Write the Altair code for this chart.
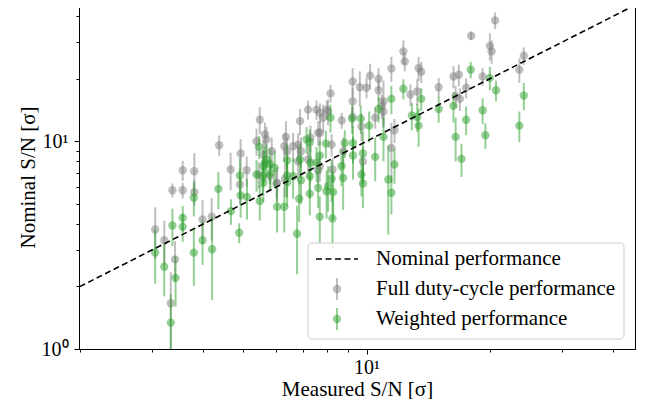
import altair as alt
import pandas as pd

# Full duty-cycle performance (gray)
gray_x = [20.6, 18.0, 20.0, 20.2, 12.3, 12.4, 24.2, 23.6, 11.5, 13.4, 13.6, 16.3, 16.8, 19.2, 10.2,
          10.7, 9.25, 9.63, 10.0, 10.7, 8.17, 12.8, 13.3, 15.0, 9.25, 11.0, 10.9, 16.5, 16.9, 17.5,
          8.0, 7.7, 7.84, 8.7, 9.25, 9.72, 10.5, 11.0, 11.7, 11.5, 7.7, 8.22, 8.77, 9.8, 8.26,
          7.2, 7.55, 8.06, 5.49, 6.88, 7.62, 5.65, 5.7, 6.36, 7.3, 6.3, 6.62, 5.39, 4.37, 5.87,
          5.6, 4.93, 6.81, 7.2, 7.69, 4.66, 5.1, 3.56, 3.8, 5.81, 4.91, 6.03, 3.36, 3.56, 3.8,
          3.98, 4.19, 3.05, 3.21, 3.41, 3.33, 6.05, 6.33, 6.92, 6.4, 7.62, 6.81, 5.46]
gray_y = [38.2, 32.2, 28.8, 27.1, 27.1, 24.2, 25.8, 22.1, 22.4, 22.5, 21.6, 20.5, 20.9, 20.5, 20.7,
          20.0, 19.4, 18.2, 18.1, 17.6, 17.0, 16.8, 17.4, 18.2, 15.6, 15.6, 14.8, 16.5, 16.0, 18.1,
          14.2, 13.7, 13.0, 12.6, 13.1, 11.8, 13.0, 13.9, 11.3, 9.3, 11.0, 9.64, 8.95, 8.0, 7.31,
          14.2, 14.2, 13.9, 12.7, 12.5, 11.0, 10.8, 10.2, 10.5, 10.4, 9.46, 9.46, 10.0, 9.57, 8.95,
          8.63, 8.73, 8.0, 8.17, 7.58, 7.31, 7.25, 7.25, 7.17, 6.79, 6.19, 6.26, 5.81, 5.81, 5.69,
          4.2, 4.33, 3.76, 3.34, 2.7, 1.66, 6.31, 6.6, 8.95, 8.95, 7.25, 9.64, 6.92]
gray_err = [3.5, 1.5, 4.3, 3.5, 3.5, 2.5, 2.5, 3.0, 3.1, 3.0, 2.5, 2.5, 2.5, 2.0, 2.9,
            2.5, 3.1, 3.5, 2.0, 2.0, 1.7, 2.0, 2.5, 2.0, 2.5, 4.0, 2.0, 2.0, 2.0, 2.0,
            1.5, 1.5, 2.0, 1.1, 1.5, 1.8, 1.5, 2.0, 1.5, 3.0, 1.5, 1.2, 1.5, 1.5, 1.0,
            1.5, 1.5, 2.0, 1.9, 1.8, 1.5, 1.5, 1.5, 2.0, 1.5, 1.5, 1.5, 1.5, 1.1, 1.5,
            1.5, 1.5, 1.5, 1.5, 1.2, 1.5, 1.2, 0.8, 1.6, 1.0, 1.2, 1.0, 0.45, 0.5, 0.8,
            1.0, 1.0, 1.05, 0.8, 0.6, 0.68, 1.2, 1.2, 1.5, 1.5, 1.0, 1.3, 1.0]

# Weighted performance (green)
green_x = [17.96, 20.0, 20.7, 24.2, 23.6, 19.2, 19.5, 17.5, 16.5, 17.05, 16.3, 15.0, 12.3, 11.5, 13.6,
           12.9, 13.3, 13.4, 10.7, 11.0, 10.15, 9.27, 9.8, 9.27, 10.5, 11.7, 8.17, 7.96, 8.69, 8.22,
           8.77, 9.72, 9.8, 11.3, 11.5, 7.99, 8.29, 7.14, 7.27, 5.47, 6.4, 6.88, 5.7, 5.6, 5.81,
           7.69, 7.55, 7.3, 5.39, 5.83, 6.62, 4.91, 5.6, 4.35, 6.4, 7.27, 7.62, 8.06, 3.36, 3.56,
           3.56, 3.79, 3.79, 3.98, 4.2, 4.67, 4.89, 4.93, 5.11, 5.49, 6.05, 6.3, 6.85, 6.77, 7.69,
           3.05, 3.21, 3.42, 3.33, 8.26, 5.97, 5.65, 6.4, 6.92, 9.22, 9.68, 5.58, 7.27, 8.85]
green_y = [22.1, 20.2, 17.6, 16.6, 11.9, 14.1, 10.7, 12.7, 10.5, 8.23, 14.8, 14.3, 17.9, 16.0, 16.0,
           13.3, 13.1, 11.9, 14.3, 10.5, 11.9, 9.8, 8.73, 8.54, 8.41, 7.73, 13.0, 9.75, 7.58, 6.6,
           6.67, 6.92, 6.26, 6.55, 5.65, 5.75, 5.69, 10.2, 9.89, 9.4, 8.1, 8.17, 8.17, 7.58, 7.73,
           8.54, 7.88, 7.88, 6.92, 6.99, 6.79, 6.84, 6.31, 5.9, 6.35, 5.6, 5.97, 6.08, 3.93, 4.28,
           3.88, 5.35, 2.91, 3.34, 3.02, 4.61, 3.63, 5.48, 5.4, 5.15, 4.84, 4.84, 5.29, 3.59, 4.33,
           2.91, 2.49, 2.2, 1.34, 4.25, 7.45, 7.88, 6.84, 6.49, 12.86, 12.86, 6.79, 6.79, 9.82]
green_err = [2.0, 2.6, 2.0, 2.5, 2.0, 2.0, 1.5, 2.0, 2.5, 1.5, 2.5, 2.0, 2.0, 2.5, 2.0,
             2.0, 2.0, 2.5, 2.0, 2.5, 2.0, 2.0, 2.5, 2.0, 2.0, 1.5, 2.0, 1.5, 1.5, 1.5,
             2.0, 1.5, 1.5, 3.0, 1.2, 1.5, 1.5, 1.5, 1.5, 1.2, 1.5, 1.5, 1.5, 1.5, 1.5,
             1.5, 1.5, 1.5, 1.2, 1.2, 1.5, 1.5, 1.2, 1.2, 1.5, 1.2, 1.2, 1.5, 0.8, 0.6,
             0.6, 1.0, 0.9, 0.8, 1.3, 0.65, 0.4, 1.2, 1.2, 1.0, 1.2, 1.2, 1.2, 1.3, 1.1,
             0.85, 0.7, 0.6, 0.5, 1.2, 1.5, 1.5, 1.5, 1.5, 2.0, 2.0, 1.2, 1.5, 1.5]

nominal_x = [1.5, 60.0]

SERIF = "Liberation Serif"
GRAY = "#7f7f7f"
GREEN = "#2ca02c"

gray_df = pd.DataFrame({"x": gray_x, "y": gray_y, "err": gray_err})
green_df = pd.DataFrame({"x": green_x, "y": green_y, "err": green_err})
nom_df = pd.DataFrame({"x": nominal_x, "y": nominal_x})

xscale = alt.Scale(type="log", domain=[1.988, 45.2], nice=False)
yscale = alt.Scale(type="log", domain=[1.0, 45.3], nice=False)

xaxis = alt.Axis(
    title="Measured S/N [σ]",
    values=[2, 3, 4, 5, 6, 7, 8, 9, 10, 20, 30, 40],
    labelExpr="datum.value == 10 ? '10¹' : ''",
    grid=False, labelOverlap=False, labelFlush=False,
    tickSize={"condition": {"test": "datum.value == 10", "value": 5}, "value": 3},
    titleX=278, titleY=46, titleAnchor="middle", titleAlign="center", titleBaseline="alphabetic",
    labelPadding=3,
)
yaxis = alt.Axis(
    title="Nominal S/N [σ]",
    values=[1, 2, 3, 4, 5, 6, 7, 8, 9, 10, 20, 30, 40],
    labelExpr="datum.value == 1 ? '10⁰' : (datum.value == 10 ? '10¹' : '')",
    grid=False, labelOverlap=False, labelFlush=False,
    tickSize={"condition": {"test": "datum.value == 1 || datum.value == 10", "value": 5}, "value": 3},
    titleX=-45, titleY=172, titleAngle=270, titleAlign="center", titleBaseline="alphabetic",
    labelPadding=6,
)


def series_layers(df, color):
    base = alt.Chart(df).transform_calculate(
        lo="max(datum.y - datum.err, 0.3)", hi="datum.y + datum.err"
    )
    bars = base.mark_rule(color=color, opacity=0.5, strokeWidth=2, clip=True).encode(
        x=alt.X("x:Q", scale=xscale, axis=xaxis),
        y=alt.Y("lo:Q", scale=yscale, axis=yaxis),
        y2="hi:Q",
    )
    pts = base.mark_circle(color=color, opacity=0.5, size=70, clip=True).encode(
        x=alt.X("x:Q", scale=xscale, axis=xaxis),
        y=alt.Y("y:Q", scale=yscale, axis=yaxis),
    )
    return [bars, pts]


nominal = alt.Chart(nom_df).mark_line(
    color="black", strokeDash=[6, 3.5], strokeWidth=1.6, clip=True
).encode(
    x=alt.X("x:Q", scale=xscale, axis=xaxis),
    y=alt.Y("y:Q", scale=yscale, axis=yaxis),
)

one = alt.Data(values=[{"k": 0}])
legend_box = alt.Chart(one).mark_rect(
    fill="white", fillOpacity=0.8, stroke="#cccccc", strokeWidth=1, cornerRadius=4
).encode(x=alt.value(229), x2=alt.value(545), y=alt.value(238), y2=alt.value(334))
legend_line = alt.Chart(one).mark_rule(color="black", strokeDash=[6, 3.5], strokeWidth=1.6).encode(
    x=alt.value(237), x2=alt.value(279), y=alt.value(254)
)
legend_gray_bar = alt.Chart(one).mark_rule(color=GRAY, opacity=0.5, strokeWidth=2).encode(
    x=alt.value(258), y=alt.value(273), y2=alt.value(295)
)
legend_gray_pt = alt.Chart(one).mark_circle(color=GRAY, opacity=0.5, size=70).encode(
    x=alt.value(258), y=alt.value(284)
)
legend_green_bar = alt.Chart(one).mark_rule(color=GREEN, opacity=0.5, strokeWidth=2).encode(
    x=alt.value(258), y=alt.value(303), y2=alt.value(325)
)
legend_green_pt = alt.Chart(one).mark_circle(color=GREEN, opacity=0.5, size=70).encode(
    x=alt.value(258), y=alt.value(314)
)


def legend_text(label, ypos):
    return alt.Chart(one).mark_text(
        align="left", baseline="middle", font=SERIF, fontSize=21, color="black"
    ).encode(x=alt.value(297), y=alt.value(ypos), text=alt.value(label))


layers = (
    series_layers(gray_df, GRAY)
    + series_layers(green_df, GREEN)
    + [nominal, legend_box, legend_line, legend_gray_bar, legend_gray_pt,
       legend_green_bar, legend_green_pt,
       legend_text("Nominal performance", 254),
       legend_text("Full duty-cycle performance", 284),
       legend_text("Weighted performance", 314)]
)

chart = alt.layer(*layers).properties(
    width=556, height=344,
    autosize=alt.AutoSizeParams(type="none"),
    padding={"left": 71, "top": -3, "right": 3, "bottom": 50},
).configure_view(
    stroke="black", strokeWidth=1
).configure_axis(
    labelFont=SERIF, labelFontSize=20, labelColor="black",
    titleFont=SERIF, titleFontSize=21, titleFontWeight="normal", titleColor="black",
    domainColor="black", domainWidth=1, tickColor="black", tickWidth=1,
)

chart.save("out.html", embed_options={"renderer": "svg", "actions": False})
